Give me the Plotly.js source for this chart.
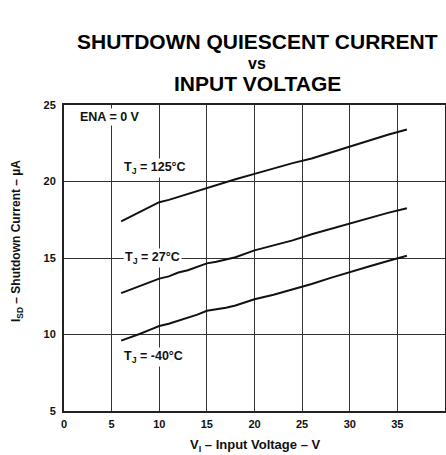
<!DOCTYPE html>
<html><head><meta charset="utf-8">
<script src="https://cdn.plot.ly/plotly-3.0.1.min.js"></script>
<style>html,body{margin:0;padding:0;background:#fff}</style>
</head><body><div id="chart" style="width:446px;height:455px"></div>
<script>
const vin = [6,7,8,9,10,11,12,13,14,15,16,17,18,20,22,24,26,28,30,32,34,36];
const i125 = [17.4,17.7,18.0,18.35,18.65,18.8,19.0,19.15,19.4,19.6,19.8,20.0,20.15,20.5,20.85,21.2,21.5,21.9,22.3,22.7,23.05,23.4];
const i27  = [12.7,12.95,13.15,13.4,13.65,13.8,14.05,14.2,14.45,14.65,14.75,14.9,15.05,15.5,15.8,16.15,16.55,16.9,17.3,17.6,17.95,18.25];
const im40 = [9.6,9.8,10.05,10.3,10.55,10.7,10.9,11.05,11.3,11.55,11.65,11.75,11.9,12.3,12.6,12.95,13.3,13.7,14.1,14.45,14.8,15.15];
const xTicks = [0,5,10,15,20,25,30,35,40];
const yTicks = [5,10,15,20,25];
const seriesNames = ['T_J = 125°C','T_J = 27°C','T_J = -40°C'];

const F = 'Liberation Sans, Arial, sans-serif';
const line = {color:'#111', width:2};
const traces = [i125, i27, im40].map((y,k)=>({x:vin, y:y, mode:'lines', line:line, name:seriesNames[k], hoverinfo:'none'}));

const axBase = {
  showline:true, mirror:true, linecolor:'#222', linewidth:2,
  showgrid:true, gridcolor:'#333', gridwidth:1, zeroline:false,
  ticks:'', tickfont:{family:F, size:11, color:'#111', weight:'bold'}
};
const lbl = {family:F, size:12.5, color:'#111', weight:'bold'};
const layout = {
  width:446, height:455,
  margin:{l:64, r:1, t:105, b:44},
  paper_bgcolor:'#fff', plot_bgcolor:'#fff',
  showlegend:false,
  xaxis:Object.assign({}, axBase, {range:[0,40], tickvals:xTicks, ticktext:xTicks.map(String), ticklabelstandoff:2}),
  yaxis:Object.assign({}, axBase, {range:[5,25], tickvals:yTicks, ticktext:yTicks.map(String), ticklabelstandoff:4}),
  annotations:[
    {xref:'paper', yref:'paper', x:0.5066, y:1.206, text:'SHUTDOWN QUIESCENT CURRENT', showarrow:false, xanchor:'center', yanchor:'middle', font:{family:F, size:21, color:'#000', weight:'bold'}},
    {xref:'paper', yref:'paper', x:0.5066, y:1.134, text:'vs', showarrow:false, xanchor:'center', yanchor:'middle', font:{family:F, size:16, color:'#000', weight:'bold'}},
    {xref:'paper', yref:'paper', x:0.5066, y:1.069, text:'INPUT VOLTAGE', showarrow:false, xanchor:'center', yanchor:'middle', font:{family:F, size:21, color:'#000', weight:'bold'}},
    {xref:'paper', yref:'paper', x:-0.123, y:0.556, text:'I<sub>SD</sub> – Shutdown Current – µA', textangle:-90, showarrow:false, xanchor:'center', yanchor:'middle', font:{family:F, size:12, color:'#111', weight:'bold'}},
    {xref:'paper', yref:'paper', x:0.501, y:-0.112, text:'V<sub>I</sub> – Input Voltage – V', showarrow:false, xanchor:'center', yanchor:'middle', font:{family:F, size:13, color:'#111', weight:'bold'}},
    {xref:'x', yref:'y', x:1.45, y:24.2, text:'ENA = 0 V', showarrow:false, xanchor:'left', yanchor:'middle', font:lbl, bgcolor:'#fff'},
    {xref:'x', yref:'y', x:9.6, y:20.9, text:'T<sub>J</sub> = 125°C', showarrow:false, xanchor:'center', yanchor:'middle', font:lbl, bgcolor:'#fff'},
    {xref:'x', yref:'y', x:9.28, y:15.0, text:'T<sub>J</sub> = 27°C', showarrow:false, xanchor:'center', yanchor:'middle', font:lbl, bgcolor:'#fff'},
    {xref:'x', yref:'y', x:9.38, y:8.5, text:'T<sub>J</sub> = -40°C', showarrow:false, xanchor:'center', yanchor:'middle', font:lbl, bgcolor:'#fff'}
  ]
};
Plotly.newPlot('chart', traces, layout, {staticPlot:true});
</script></body></html>
